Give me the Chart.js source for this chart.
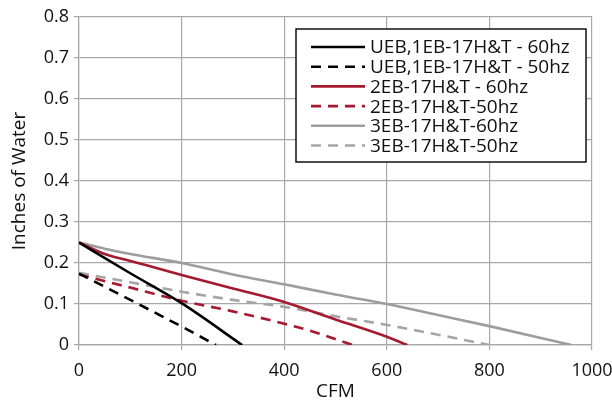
<!DOCTYPE html>
<html>
<head>
<meta charset="utf-8">
<script src="https://cdn.jsdelivr.net/npm/chart.js@4"></script>
<style>
  html, body { margin: 0; padding: 0; background: #fff; }
  #wrap { width: 612px; height: 403px; }
</style>
</head>
<body>
<div id="wrap"><canvas id="chart"></canvas></div>
<script>
// values (CFM vs inches of water)
const cfmUeb60 = [0, 100, 200, 318];
const inUeb60 = [0.25, 0.175, 0.102, 0];
const cfmUeb50 = [0, 100, 200, 267];
const inUeb50 = [0.174, 0.11, 0.045, 0];
const cfm2eb60 = [0, 50, 100, 200, 300, 400, 500, 600, 640];
const in2eb60 = [0.25, 0.222, 0.205, 0.171, 0.138, 0.105, 0.062, 0.02, 0];
const cfm2eb50 = [0, 100, 200, 300, 400, 450, 533];
const in2eb50 = [0.172, 0.14, 0.108, 0.082, 0.052, 0.035, 0];
const cfm3eb60 = [0, 50, 100, 200, 300, 400, 500, 600, 700, 800, 960];
const in3eb60 = [0.25, 0.235, 0.222, 0.2, 0.172, 0.148, 0.123, 0.1, 0.073, 0.046, 0];
const cfm3eb50 = [0, 100, 200, 300, 400, 500, 600, 700, 800];
const in3eb50 = [0.176, 0.153, 0.13, 0.11, 0.093, 0.07, 0.049, 0.025, 0];

const labels = ["UEB,1EB-17H&T - 60hz", "UEB,1EB-17H&T - 50hz", "2EB-17H&T - 60hz",
                "2EB-17H&T-50hz", "3EB-17H&T-60hz", "3EB-17H&T-50hz"];

const RED = "#a6192e";
const GRAY = "#9d9d9d";
const GRID = "#a8a8a8";
const FONT = "'Open Sans', sans-serif";

function pts(xs, ys) {
    return xs.map((x, i) => ({ x: x, y: ys[i] }));
}

function series(label, xs, ys, color, dashed) {
    return {
        label: label,
        data: pts(xs, ys),
        borderColor: color,
        borderWidth: 2.6,
        borderDash: dashed ? [10, 7] : [],
        pointRadius: 0,
        tension: 0.3,
        cubicInterpolationMode: 'monotone',
        fill: false
    };
}

// legend drawn as a boxed list inside the plot, top right
const boxLegend = {
    id: 'boxLegend',
    afterDraw(chart) {
        const ctx = chart.ctx;
        const area = chart.chartArea;
        const w = 290, h = 133;
        const left = area.right - 6 - w;
        const top = area.top + 12;
        ctx.save();
        ctx.fillStyle = "#fff";
        ctx.fillRect(left, top, w, h);
        ctx.strokeStyle = "#000";
        ctx.lineWidth = 1.4;
        ctx.strokeRect(left, top, w, h);
        ctx.font = "19px " + FONT;
        ctx.textBaseline = "middle";
        chart.data.datasets.forEach((ds, i) => {
            const y = top + 18 + i * 19.7;
            ctx.beginPath();
            ctx.strokeStyle = ds.borderColor;
            ctx.lineWidth = ds.borderWidth;
            ctx.setLineDash(ds.borderDash);
            ctx.moveTo(left + 15, y);
            ctx.lineTo(left + 69, y);
            ctx.stroke();
            ctx.setLineDash([]);
            ctx.fillStyle = "#111";
            ctx.fillText(ds.label, left + 74, y + 1);
        });
        ctx.restore();
    }
};

new Chart(document.getElementById("chart"), {
    type: 'line',
    data: {
        datasets: [
            series(labels[0], cfmUeb60, inUeb60, "#000", false),
            series(labels[1], cfmUeb50, inUeb50, "#000", true),
            series(labels[2], cfm2eb60, in2eb60, RED, false),
            series(labels[3], cfm2eb50, in2eb50, RED, true),
            series(labels[4], cfm3eb60, in3eb60, GRAY, false),
            series(labels[5], cfm3eb50, in3eb50, "#a5a5a5", true)
        ]
    },
    plugins: [boxLegend],
    options: {
        responsive: true,
        maintainAspectRatio: false,
        animation: false,
        layout: { padding: { left: 0, top: 17, right: 0, bottom: 0 } },
        plugins: {
            legend: { display: false },
            tooltip: { enabled: false }
        },
        scales: {
            x: {
                type: 'linear',
                min: 0,
                max: 1000,
                ticks: { stepSize: 200, color: "#111", padding: 10, maxRotation: 0,
                         font: { family: FONT, size: 18 },
                         callback: (v) => String(v) },
                grid: { color: GRID, lineWidth: 1.2, tickLength: 5 },
                border: { color: GRID, width: 1.2 },
                title: { display: true, text: "CFM", color: "#111", padding: 0,
                         font: { family: FONT, size: 19 } },
                afterFit: (s) => { s.height = 58; s.paddingRight = 20; }
            },
            y: {
                min: 0,
                max: 0.8,
                ticks: { stepSize: 0.1, color: "#111", padding: 5,
                         font: { family: FONT, size: 18 },
                         callback: (v) => v === 0 ? "0" : v.toFixed(1) },
                grid: { color: GRID, lineWidth: 1.2, tickLength: 5 },
                border: { color: GRID, width: 1.2 },
                title: { display: true, text: "Inches of Water", color: "#111",
                         padding: { top: 8, bottom: 0 },
                         font: { family: FONT, size: 19 } },
                afterFit: (s) => { s.width = 79; }
            }
        }
    }
});
</script>
</body>
</html>
